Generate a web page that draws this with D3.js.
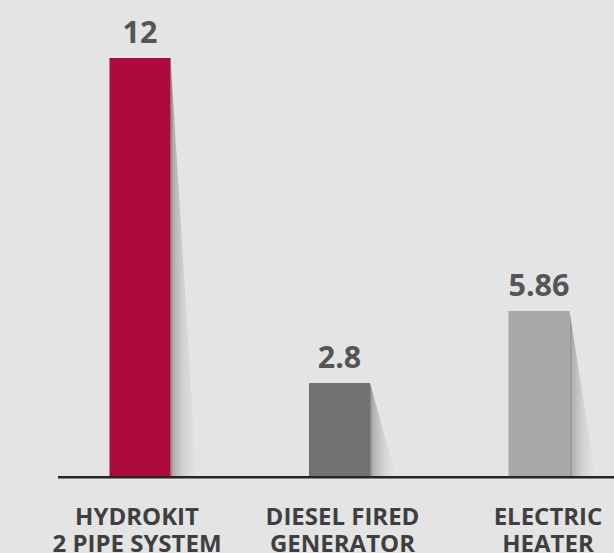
<!DOCTYPE html>
<html>
<head>
<meta charset="utf-8">
<script src="https://cdn.jsdelivr.net/npm/d3@7/dist/d3.min.js"></script>
<style>
  html, body { margin: 0; padding: 0; background: #e4e4e4; overflow: hidden; }
  svg { display: block; }
</style>
</head>
<body>
<svg id="chart" width="614" height="553"></svg>
<script>
// ---- data ----
const categories = ["HYDROKIT|2 PIPE SYSTEM", "DIESEL FIRED|GENERATOR", "ELECTRIC|HEATER"];
const valueLabels = ["12", "2.8", "5.86"];
// bar heights as drawn in the reference (not to scale with the printed labels)
const barHeights = [12, 2.67, 4.74];
const barColors = ["#ad0b3b", "#707173", "#a7a8aa"];

// ---- layout ----
const W = 614, H = 553;
const baseY = 476, topY = 58;
const svg = d3.select("#chart");

svg.append("rect").attr("width", W).attr("height", H).attr("fill", "#e4e4e4");

const x = d3.scaleBand().domain(categories).range([29.7, 649.3]).paddingInner(0.694).paddingOuter(0.4);
const xl = d3.scaleBand().domain(categories).range([34.25, 650.75]).padding(0);
const y = d3.scaleLinear().domain([0, 12]).range([baseY, topY]);

const defs = svg.append("defs");
const grad = defs.append("linearGradient").attr("id", "shadow")
  .attr("x1", "0").attr("x2", "1").attr("y1", "0").attr("y2", "0");
grad.append("stop").attr("offset", "0").attr("stop-color", "#000").attr("stop-opacity", 0.42);
grad.append("stop").attr("offset", "0.12").attr("stop-color", "#000").attr("stop-opacity", 0.22);
grad.append("stop").attr("offset", "0.5").attr("stop-color", "#000").attr("stop-opacity", 0.08);
grad.append("stop").attr("offset", "1").attr("stop-color", "#000").attr("stop-opacity", 0);

const data = categories.map((c, i) => ({ c, h: barHeights[i], label: valueLabels[i], color: barColors[i] }));

// shadows
svg.selectAll("path.shadow").data(data).enter().append("path")
  .attr("class", "shadow")
  .attr("fill", "url(#shadow)")
  .attr("d", d => {
    const r = x(d.c) + x.bandwidth();
    return `M${r},${y(d.h)} L${r + 26},${baseY} L${r},${baseY} Z`;
  });

// bars
svg.selectAll("rect.bar").data(data).enter().append("rect")
  .attr("class", "bar")
  .attr("x", d => x(d.c))
  .attr("y", d => y(d.h))
  .attr("width", x.bandwidth())
  .attr("height", d => baseY - y(d.h))
  .attr("fill", d => d.color);

// value labels
svg.selectAll("text.val").data(data).enter().append("text")
  .attr("class", "val")
  .attr("x", d => x(d.c) + x.bandwidth() / 2)
  .attr("y", d => y(d.h) - 15)
  .attr("text-anchor", "middle")
  .attr("font-family", "'Open Sans', sans-serif")
  .attr("font-weight", 700)
  .attr("font-size", 30.5)
  .attr("fill", "#555555")
  .text(d => d.label);

// axis baseline
svg.append("line")
  .attr("x1", 58).attr("x2", W)
  .attr("y1", baseY + 1.2).attr("y2", baseY + 1.2)
  .attr("stroke", "#262626").attr("stroke-width", 2.5);

// category labels
const cat = svg.selectAll("text.cat").data(data).enter().append("text")
  .attr("class", "cat")
  .attr("x", d => xl(d.c) + xl.bandwidth() / 2)
  .attr("y", 524.5)
  .attr("text-anchor", "middle")
  .attr("font-family", "'Open Sans', sans-serif")
  .attr("font-weight", 700)
  .attr("font-size", 24)
  .attr("fill", "#3f3f3f");
cat.selectAll("tspan").data(d => d.c.split("|")).enter().append("tspan")
  .attr("x", function () { return d3.select(this.parentNode).attr("x"); })
  .attr("dy", (t, i) => i === 0 ? 0 : 27.5)
  .text(t => t);
</script>
</body>
</html>
